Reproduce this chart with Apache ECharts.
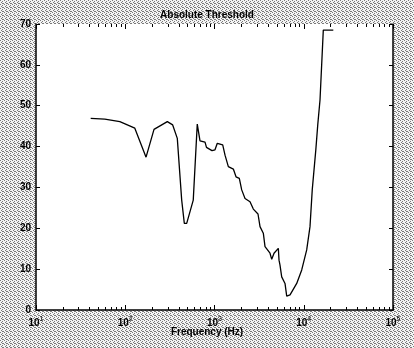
<!DOCTYPE html>
<html>
<head>
<meta charset="utf-8">
<script src="https://cdn.jsdelivr.net/npm/echarts@6/dist/echarts.min.js"></script>
<style>
html,body{margin:0;padding:0;}
#chart{width:414px;height:348px;}
</style>
</head>
<body>
<div id="chart"></div>
<script>
// absolute threshold of hearing
var freqHz=[41,59,87,128,171,210,296,340,383,429,459,488,578,641,688,783,813,937,1013,1075,1236,1312,1429,1626,1742,1897,2018,2198,2500,2723,3072,3236,3524,3682,4188,4376,4645,5190,5283,5419,5662,6166,6444,7020,8340,9490,10790,11750,12450,13650,14350,15210,16560,21440];
var thresholdDb=[46.9,46.7,46.1,44.5,37.4,44.2,46.1,45.3,42.0,26.9,21.2,21.2,26.9,45.5,41.4,41.1,39.8,39.0,39.2,40.8,40.4,37.9,35.1,34.5,32.6,32.2,29.4,27.3,26.5,24.7,23.5,20.4,18.8,15.5,13.9,12.4,13.9,15.1,12.2,11.0,8.1,6.5,3.4,3.7,6.5,9.8,14.7,20.4,29.4,39.2,45.3,51.4,68.5,68.5];
var majorTicks=[10,100,1000,10000,100000];
var minorTicks=[20,30,40,50,60,70,80,90,200,300,400,500,600,700,800,900,2000,3000,4000,5000,6000,7000,8000,9000,20000,30000,40000,50000,60000,70000,80000,90000];

var points=[];
for(let i=0;i<freqHz.length;i++){
    points.push([freqHz[i],thresholdDb[i]]);
}

// dithered grey like the scanned figure window
var dither=document.createElement('canvas');
dither.width=4;dither.height=4;
var dctx=dither.getContext('2d');
dctx.fillStyle='#f4f4f4';
dctx.fillRect(0,0,4,4);
dctx.fillStyle='#7a7a7a';
[[0,0],[2,1],[1,2],[3,3],[2,3]].forEach(function(p){dctx.fillRect(p[0],p[1],1,1);});

function xAxisOf(pos,ticks,len,labels){
    return {
        type:'log',
        logBase:10,
        min:10,
        max:100000,
        position:pos,
        axisLine:{show:labels,lineStyle:{color:'#000',width:1.5}},
        axisTick:{show:true,inside:true,length:len,customValues:ticks,lineStyle:{color:'#000',width:1}},
        axisLabel:{
            show:labels,
            customValues:majorTicks,
            margin:6,
            formatter:function(v){
                return '{b|10}{s|'+Math.round(Math.log10(v))+'}';
            },
            rich:{
                b:{fontSize:10,fontWeight:'bold',color:'#000',fontFamily:'Liberation Sans'},
                s:{fontSize:7,color:'#000',fontFamily:'Liberation Sans',padding:[0,0,7,0]}
            }
        },
        splitLine:{show:false}
    };
}
function yAxisOf(pos,labels){
    return {
        type:'value',
        min:0,
        max:70,
        interval:10,
        position:pos,
        axisLine:{show:true,lineStyle:{color:'#000',width:1.5}},
        axisTick:{show:true,inside:true,length:4,lineStyle:{color:'#000'}},
        axisLabel:{show:labels,margin:5,color:'#000',fontSize:10,fontWeight:'bold',fontFamily:'Liberation Sans'},
        splitLine:{show:false}
    };
}

var chart=echarts.init(document.getElementById('chart'));
var option={
    animation:false,
    backgroundColor:{image:dither,repeat:'repeat'},
    title:{
        text:'Absolute Threshold',
        left:'center',
        top:5,
        textStyle:{fontSize:10,fontWeight:'bold',color:'#000',fontFamily:'Liberation Sans'}
    },
    grid:{left:36,top:24,right:21,bottom:38,show:true,backgroundColor:'#fff',borderWidth:0},
    xAxis:[
        xAxisOf('bottom',majorTicks,5,true),
        xAxisOf('bottom',minorTicks,3,false),
        xAxisOf('top',majorTicks,5,false),
        xAxisOf('top',minorTicks,3,false)
    ],
    yAxis:[yAxisOf('left',true),yAxisOf('right',false)],
    graphic:[{
        type:'text',
        left:'center',
        top:327,
        style:{text:'Frequency (Hz)',fontSize:10,fontWeight:'bold',fill:'#000',fontFamily:'Liberation Sans'}
    }],
    series:[{
        name:'Absolute Threshold',
        type:'line',
        xAxisIndex:0,
        yAxisIndex:0,
        data:points,
        symbol:'none',
        lineStyle:{color:'#000',width:1.3}
    }]
};
chart.setOption(option);
</script>
</body>
</html>
